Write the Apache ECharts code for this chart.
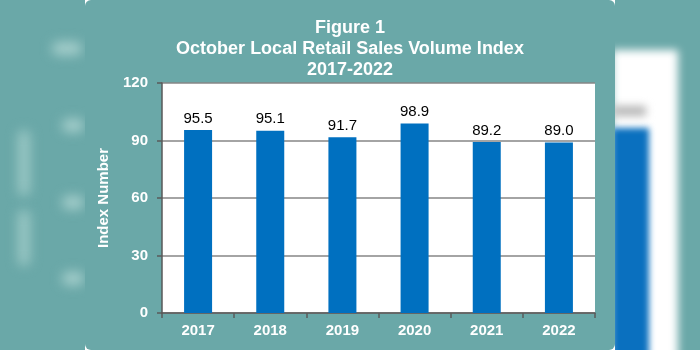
<!DOCTYPE html>
<html>
<head>
<meta charset="utf-8">
<script src="https://cdn.jsdelivr.net/npm/echarts@6/dist/echarts.min.js"></script>
<style>
  html, body { margin: 0; padding: 0; }
  body { width: 700px; height: 350px; overflow: hidden; background: #6aa8a8; position: relative; }
  .deco { position: absolute; }
  .soft { filter: blur(6px); }
  #strip { left: 85px; top: 0; width: 530px; height: 350px; background: #ffffff; }
  #card { left: 85px; top: 0; width: 530px; height: 350px; background: #6aa8a8; border-radius: 6px; }
  #chart { position: absolute; left: 0; top: 0; width: 700px; height: 350px; }
</style>
</head>
<body>
<!-- blurred backdrop pieces on either side of the card -->
<div class="deco soft" style="left:52px;top:42px;width:30px;height:13px;background:#a6cfcc;border-radius:6px"></div>
<div class="deco soft" style="left:62px;top:119px;width:22px;height:13px;background:#a6cfcc;border-radius:6px"></div>
<div class="deco soft" style="left:62px;top:196px;width:22px;height:13px;background:#a6cfcc;border-radius:6px"></div>
<div class="deco soft" style="left:62px;top:272px;width:22px;height:13px;background:#a6cfcc;border-radius:6px"></div>
<div class="deco soft" style="left:18px;top:130px;width:12px;height:66px;background:#9ac8c5;border-radius:6px"></div>
<div class="deco soft" style="left:18px;top:210px;width:12px;height:56px;background:#9ac8c5;border-radius:6px"></div>
<div class="deco" style="left:612px;top:50px;width:66px;height:310px;background:#ffffff;filter:blur(4px)"></div>
<div class="deco" style="left:612px;top:106px;width:34px;height:10px;background:#b5b5b5;filter:blur(4px)"></div>
<div class="deco" style="left:612px;top:128px;width:37px;height:230px;background:#0a70bf;filter:blur(3px)"></div>
<div class="deco" id="strip"></div>
<div class="deco" id="card"></div>
<div id="chart"></div>
<script>
// October local retail sales volume index, 2017-2022
const years = ['2017', '2018', '2019', '2020', '2021', '2022'];
const indexValues = [95.5, 95.1, 91.7, 98.9, 89.2, 89.0];
const titleLines = ['Figure 1', 'October Local Retail Sales Volume Index', '2017-2022'];
const yAxisName = 'Index Number';

const FONT = 'Arial, "Liberation Sans", sans-serif';

const chart = echarts.init(document.getElementById('chart'), null, { renderer: 'canvas' });
chart.setOption({
  backgroundColor: 'transparent',
  animation: false,
  title: {
    text: titleLines.join('\n'),
    left: 'center',
    top: 13,
    textStyle: {
      color: '#ffffff',
      fontFamily: FONT,
      fontWeight: 'bold',
      fontSize: 18,
      lineHeight: 21
    }
  },
  grid: {
    left: 162,
    right: 105,
    top: 83,
    bottom: 37,
    show: true,
    backgroundColor: '#ffffff',
    borderWidth: 0,
    borderColor: 'transparent'
  },
  xAxis: {
    type: 'category',
    data: years,
    axisLine: { show: true, lineStyle: { color: '#595959', width: 1.5 } },
    axisTick: { show: true, length: 5, lineStyle: { color: '#595959', width: 1.5 } },
    axisLabel: {
      color: '#ffffff',
      fontFamily: FONT,
      fontWeight: 'bold',
      fontSize: 15,
      margin: 10
    }
  },
  yAxis: {
    type: 'value',
    min: 0,
    max: 120,
    interval: 30,
    name: yAxisName,
    nameLocation: 'middle',
    nameGap: 51,
    nameTextStyle: {
      color: '#ffffff',
      fontFamily: FONT,
      fontWeight: 'bold',
      fontSize: 15
    },
    axisLine: { show: true, lineStyle: { color: '#595959', width: 1.5 } },
    axisTick: { show: true, length: 5, lineStyle: { color: '#595959', width: 1.5 } },
    splitLine: { show: true, lineStyle: { color: '#868686', width: 1.5 } },
    axisLabel: {
      color: '#ffffff',
      fontFamily: FONT,
      fontWeight: 'bold',
      fontSize: 15,
      margin: 14
    }
  },
  series: [{
    type: 'bar',
    data: indexValues,
    barWidth: 28,
    itemStyle: { color: '#0070c0' },
    label: {
      show: true,
      position: 'top',
      distance: 4,
      color: '#000000',
      fontFamily: FONT,
      fontSize: 15,
      formatter: p => p.value.toFixed(1)
    }
  }]
});
</script>
</body>
</html>
